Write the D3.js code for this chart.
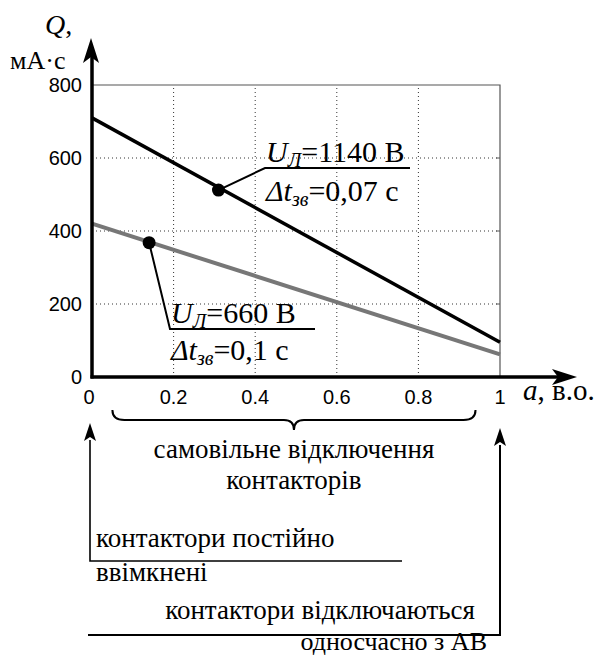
<!DOCTYPE html>
<html>
<head>
<meta charset="utf-8">
<script src="https://cdn.jsdelivr.net/npm/d3@7"></script>
</head>
<body style="margin:0">
<div id="chart"></div>
<script>
// values
const xTicks = [0, 0.2, 0.4, 0.6, 0.8, 1]
const yTicks = [0, 200, 400, 600, 800]
const aValues = [0, 1]
const q1140 = [710, 95]
const q660 = [420, 62]
const markA = [0.31, 0.14]
const markQ = [512, 368]

const serifFont = 'Liberation Serif'
const sansFont = 'Liberation Sans'

const svg = d3.select('#chart').append('svg')
  .attr('width', 601).attr('height', 657)

const x = d3.scaleLinear().domain([0, 1]).range([92, 500])
const y = d3.scaleLinear().domain([0, 800]).range([377, 85])

// grid (dotted)
svg.append('g').selectAll('line')
  .data(xTicks.slice(1, -1)).enter().append('line')
  .attr('x1', d => x(d)).attr('x2', d => x(d))
  .attr('y1', y(0)).attr('y2', y(800))
  .attr('stroke', '#333').attr('stroke-width', 1).attr('stroke-dasharray', '1,3')
svg.append('g').selectAll('line')
  .data(yTicks.slice(1, -1)).enter().append('line')
  .attr('x1', x(0)).attr('x2', x(1))
  .attr('y1', d => y(d)).attr('y2', d => y(d))
  .attr('stroke', '#333').attr('stroke-width', 1).attr('stroke-dasharray', '1,3')

// box top / right
svg.append('path')
  .attr('d', `M${x(0)},${y(800)}H${x(1)}V${y(0)}`)
  .attr('fill', 'none').attr('stroke', '#555').attr('stroke-width', 1.2)
yTicks.slice(1, -1).forEach(t => {
  svg.append('line').attr('x1', x(1) - 4).attr('x2', x(1)).attr('y1', y(t)).attr('y2', y(t))
    .attr('stroke', '#555')
})

// tick labels
yTicks.forEach(d => {
  svg.append('text').attr('x', 82).attr('y', y(d) + 7).attr('text-anchor', 'end')
    .style('font-family', sansFont).style('font-size', '20px').text(d)
})
xTicks.forEach(d => {
  svg.append('text').attr('x', x(d) - (d === 0 ? 3 : 0)).attr('y', 404).attr('text-anchor', 'middle')
    .style('font-family', sansFont).style('font-size', '20px').text(d)
})

// series lines
const line = d3.line().x(d => x(d[0])).y(d => y(d[1]))
svg.append('path').datum(aValues.map((a, i) => [a, q660[i]]))
  .attr('d', line).attr('fill', 'none').attr('stroke', '#777').attr('stroke-width', 4)
svg.append('path').datum(aValues.map((a, i) => [a, q1140[i]]))
  .attr('d', line).attr('fill', 'none').attr('stroke', '#000').attr('stroke-width', 3.5)

// axes with arrows
svg.append('line').attr('x1', x(0)).attr('x2', x(0)).attr('y1', y(0) + 1.5).attr('y2', 50)
  .attr('stroke', '#000').attr('stroke-width', 3.5)
svg.append('line').attr('x1', x(0) - 1.5).attr('x2', 565).attr('y1', y(0)).attr('y2', y(0))
  .attr('stroke', '#000').attr('stroke-width', 3.5)
const xa = x(0) - 1
svg.append('path').attr('d', `M${xa},38 L${xa + 8},63 L${xa},57 L${xa - 8},63 Z`).attr('fill', '#000')
svg.append('path').attr('d', `M577,${y(0)} L552,${y(0) - 8} L558,${y(0)} L552,${y(0) + 8} Z`).attr('fill', '#000')

// markers
markA.forEach((a, i) => {
  svg.append('circle').attr('cx', x(a)).attr('cy', y(markQ[i])).attr('r', 6.5).attr('fill', '#000')
})

// text with italic / subscript pieces
function rich(px, py, parts, size) {
  const t = svg.append('text').attr('x', px).attr('y', py)
    .style('font-family', serifFont).style('font-size', size + 'px')
  parts.forEach(p => {
    const s = t.append('tspan').text(p.t)
    if (p.i) s.style('font-style', 'italic')
    if (p.sub) s.style('font-size', Math.round(size * 0.68) + 'px').attr('dy', 5)
    if (p.back) s.attr('dy', -5)
  })
  return t
}
function plain(px, py, str, size, anchor) {
  return svg.append('text').attr('x', px).attr('y', py).attr('text-anchor', anchor || 'start')
    .style('font-family', serifFont).style('font-size', size + 'px').text(str)
}

// annotation 1140 V
const m1 = [x(markA[0]), y(markQ[0])]
svg.append('path').attr('d', `M${m1[0]},${m1[1]} L265,168 H410`)
  .attr('fill', 'none').attr('stroke', '#000').attr('stroke-width', 2)
rich(266, 162, [{t: 'U', i: 1}, {t: 'Л', i: 1, sub: 1}, {t: '=1140 В', back: 1}], 30)
rich(266, 201, [{t: 'Δt', i: 1}, {t: 'зв', i: 1, sub: 1}, {t: '=0,07 с', back: 1}], 30)

// annotation 660 V
const m2 = [x(markA[1]), y(markQ[1])]
svg.append('path').attr('d', `M${m2[0]},${m2[1]} L170,329 H315`)
  .attr('fill', 'none').attr('stroke', '#000').attr('stroke-width', 2)
rich(171, 323, [{t: 'U', i: 1}, {t: 'Л', i: 1, sub: 1}, {t: '=660 В', back: 1}], 30)
rich(171, 360, [{t: 'Δt', i: 1}, {t: 'зв', i: 1, sub: 1}, {t: '=0,1 с', back: 1}], 30)

// axis titles
rich(45, 34, [{t: 'Q', i: 1}, {t: ','}], 28)
plain(10, 69, 'мА·с', 26)
rich(523, 400, [{t: 'a', i: 1}, {t: ', в.о.'}], 29)

// brace under x axis
const b0 = x(0.05), b1 = x(0.94), bm = (b0 + b1) / 2
svg.append('path')
  .attr('d', `M${b0},410 Q${b0},420 ${b0 + 12},420 H${bm - 10} Q${bm},420 ${bm},430 Q${bm},420 ${bm + 10},420 H${b1 - 12} Q${b1},420 ${b1},410`)
  .attr('fill', 'none').attr('stroke', '#000').attr('stroke-width', 2)
plain(bm, 458, 'самовільне відключення', 27, 'middle')
plain(bm, 489, 'контакторів', 27, 'middle')

// lower callouts
const la = x(0) - 2, ra = x(1)
svg.append('path').attr('d', `M${la},440 V561 H402`)
  .attr('fill', 'none').attr('stroke', '#000').attr('stroke-width', 1.6)
svg.append('path').attr('d', `M${la},423 L${la + 6},441 L${la},437 L${la - 6},441 Z`).attr('fill', '#000')
svg.append('path').attr('d', `M88,635 H${ra} V445`)
  .attr('fill', 'none').attr('stroke', '#000').attr('stroke-width', 2)
svg.append('path').attr('d', `M${ra},428 L${ra + 6},446 L${ra},442 L${ra - 6},446 Z`).attr('fill', '#000')

plain(96, 547, 'контактори постійно', 27)
plain(96, 581, 'ввімкнені', 27)
plain(475, 619, 'контактори відключаються', 27, 'end')
plain(487, 650, 'односчасно з АВ', 26, 'end')
</script>
</body>
</html>
